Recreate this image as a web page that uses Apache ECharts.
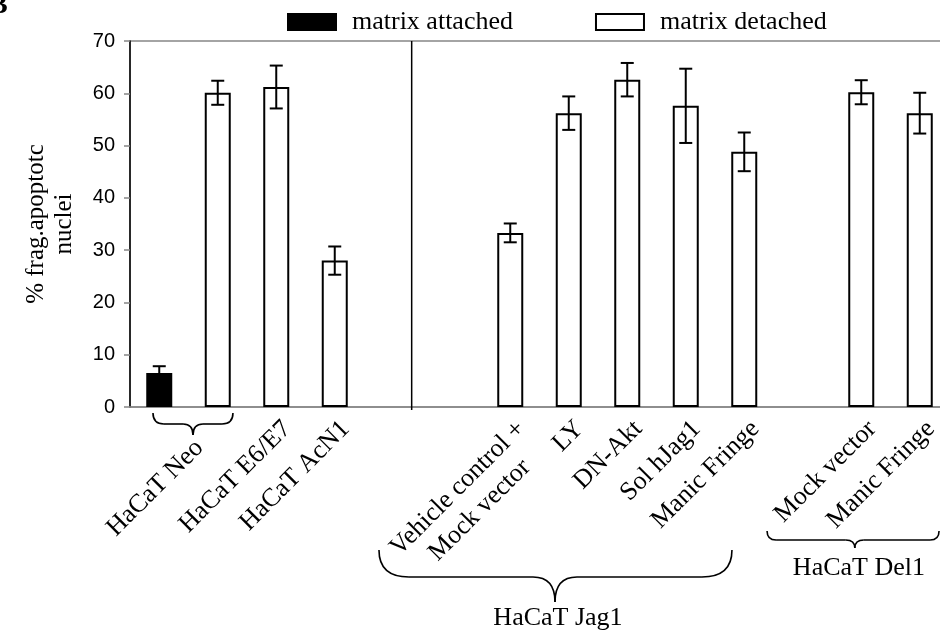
<!DOCTYPE html>
<html><head><meta charset="utf-8">
<script src="https://cdn.jsdelivr.net/npm/echarts@6/dist/echarts.min.js"></script>
<style>html,body{margin:0;padding:0;background:#fff}#c{width:940px;height:635px}</style>
</head><body><div id="c"></div>
<script>
// ---------- data ----------
const categoryLabels = ['', '', 'HaCaT E6/E7', 'HaCaT AcN1', '', '', 'Vehicle control +\nMock vector', 'LY', 'DN-Akt', 'Sol hJag1', 'Manic Fringe', '', 'Mock vector', 'Manic Fringe'];
const seriesNames = ['matrix attached', 'matrix detached'];
const attachedValues = [6.5, null, null, null, null, null, null, null, null, null, null, null, null, null];
const attachedErrors = [1.3, null, null, null, null, null, null, null, null, null, null, null, null, null];
const detachedValues = [null, 60.1, 61.2, 28.0, null, null, 33.3, 56.2, 62.6, 57.6, 48.8, null, 60.2, 56.2];
const detachedErrors = [null, 2.3, 4.1, 2.7, null, null, 1.8, 3.2, 3.2, 7.1, 3.7, null, 2.3, 3.9];
const groupNames = ['HaCaT Neo', 'HaCaT Jag1', 'HaCaT Del1'];
const yAxisMin = 0, yAxisMax = 70, yAxisStep = 10;
const yAxisTitle = ['% frag.apoptotc', 'nuclei'];
const panelLetter = 'B';

// ---------- layout (positions in slot units / px offsets below the x axis) ----------
const neoLabelAt = 0.5;
const dividerAt = 4.315;
const braces = [
  {x0: -0.107, x1: 1.26, xc: 0.577, top: 6, mid: 17, pt: 28, rEnd: 11, rMid: 10},
  {x0: 3.756, x1: 9.79, xc: 6.765, top: 143, mid: 170, pt: 195, rEnd: 30, rMid: 22},
  {x0: 10.39, x1: 13.33, xc: 11.89, top: 124, mid: 133, pt: 141, rEnd: 9, rMid: 9}
];
const groupTextPos = [null, {x: 6.816, dy: 211}, {x: 11.96, dy: 161}];

const SERIF = '"Liberation Serif", "Times New Roman", serif';
const SANS = '"Liberation Sans", Arial, sans-serif';
const GRAY = '#868686';

const toBar = arr => arr.map(v => v == null ? '-' : v);
const toErr = (vals, errs) => vals.map((v, i) => v == null ? null : [i, v - errs[i], v + errs[i]]).filter(Boolean);
const richLabel = v => v ? v.split('\n').map(s => '{c|' + s + '}').join('\n') : '';

function renderError(params, api) {
  const x = api.value(0);
  const lo = api.coord([x, api.value(1)]);
  const hi = api.coord([x, api.value(2)]);
  const hw = 6.5;
  const st = {stroke: '#000', lineWidth: 2};
  return {type: 'group', children: [
    {type: 'line', shape: {x1: hi[0], y1: hi[1], x2: lo[0], y2: lo[1]}, style: st},
    {type: 'line', shape: {x1: hi[0] - hw, y1: hi[1], x2: hi[0] + hw, y2: hi[1]}, style: st},
    {type: 'line', shape: {x1: lo[0] - hw, y1: lo[1], x2: lo[0] + hw, y2: lo[1]}, style: st}
  ]};
}

function renderDecor(params, api) {
  const X = v => api.coord([v, 0])[0];
  const y0 = api.coord([0, yAxisMin])[1];
  const yTop = api.coord([0, yAxisMax])[1];
  const st = {stroke: '#000', lineWidth: 1.6, fill: null};
  const kids = [];
  const xd = X(dividerAt);
  kids.push({type: 'line', shape: {x1: xd, y1: yTop, x2: xd, y2: y0 + 3}, style: {stroke: '#000', lineWidth: 1.5}});
  braces.forEach(b => {
    const xl = X(b.x0), xr = X(b.x1), xc = X(b.xc);
    const t = y0 + b.top, m = y0 + b.mid, p = y0 + b.pt;
    kids.push({type: 'bezierCurve', shape: {x1: xl, y1: t, cpx1: xl, cpy1: m, x2: xl + b.rEnd, y2: m}, style: st});
    kids.push({type: 'line', shape: {x1: xl + b.rEnd, y1: m, x2: xc - b.rMid, y2: m}, style: st});
    kids.push({type: 'bezierCurve', shape: {x1: xc - b.rMid, y1: m, cpx1: xc, cpy1: m, x2: xc, y2: p}, style: st});
    kids.push({type: 'bezierCurve', shape: {x1: xc, y1: p, cpx1: xc, cpy1: m, x2: xc + b.rMid, y2: m}, style: st});
    kids.push({type: 'line', shape: {x1: xc + b.rMid, y1: m, x2: xr - b.rEnd, y2: m}, style: st});
    kids.push({type: 'bezierCurve', shape: {x1: xr - b.rEnd, y1: m, cpx1: xr, cpy1: m, x2: xr, y2: t}, style: st});
  });
  groupTextPos.forEach((g, i) => {
    if (!g) return;
    kids.push({type: 'text', x: X(g.x), y: y0 + g.dy, style: {text: groupNames[i], fontFamily: SERIF, fontSize: 26, fill: '#000', align: 'center', verticalAlign: 'middle'}});
  });
  return {type: 'group', children: kids};
}

const chart = echarts.init(document.getElementById('c'));
chart.setOption({
  animation: false,
  backgroundColor: '#fff',
  graphic: [{type: 'text', x: -11, y: 20, style: {text: panelLetter, font: 'bold 28px ' + SERIF, fill: '#000', verticalAlign: 'bottom'}}],
  legend: {
    data: seriesNames, left: 287, top: 9, padding: 0, itemWidth: 48, itemHeight: 16, itemGap: 82, icon: 'rect',
    textStyle: {fontFamily: SERIF, fontSize: 26, color: '#000', padding: [0, 0, 0, 11]}
  },
  grid: {left: 130, top: 41, width: 819, height: 366, outerBoundsMode: 'none', containLabel: false,
    show: true, borderColor: GRAY, borderWidth: 1.5, backgroundColor: 'transparent'},
  xAxis: [{
    type: 'category', data: categoryLabels, position: 'bottom',
    axisLine: {lineStyle: {color: GRAY, width: 1.5}}, axisTick: {show: false},
    axisLabel: {interval: 0, rotate: 45, verticalAlign: 'top', margin: 7, formatter: richLabel,
      rich: {c: {align: 'center', fontFamily: SERIF, fontSize: 26, lineHeight: 31, color: '#000'}}}
  }, {
    type: 'value', min: -0.5, max: 13.5, interval: 1, position: 'bottom',
    axisLine: {show: false}, axisTick: {show: false}, splitLine: {show: false},
    axisLabel: {rotate: 45, verticalAlign: 'top', margin: 26, showMinLabel: true, showMaxLabel: true,
      formatter: v => Math.abs(v - neoLabelAt) < 1e-6 ? groupNames[0] : '',
      fontFamily: SERIF, fontSize: 26, color: '#000', lineHeight: 31}
  }],
  yAxis: {
    type: 'value', min: yAxisMin, max: yAxisMax, interval: yAxisStep,
    name: yAxisTitle.join('\n'), nameLocation: 'middle', nameRotate: 90, nameGap: 52,
    nameTextStyle: {fontFamily: SERIF, fontSize: 25, lineHeight: 28, color: '#000'},
    axisLine: {show: true, onZero: false, lineStyle: {color: '#000', width: 1.5}},
    axisTick: {show: true, length: 6, lineStyle: {color: GRAY, width: 1.5}},
    axisLabel: {fontFamily: SANS, fontSize: 20, color: '#000', margin: 15},
    splitLine: {show: false}
  },
  series: [
    {name: seriesNames[0], type: 'bar', data: toBar(attachedValues), barWidth: 26, barGap: '-100%',
      itemStyle: {color: '#000', borderColor: '#000', borderWidth: 2}, z: 2},
    {name: seriesNames[1], type: 'bar', data: toBar(detachedValues), barWidth: 26, barGap: '-100%',
      itemStyle: {color: '#fff', borderColor: '#000', borderWidth: 2}, z: 2},
    {name: 'err attached', type: 'custom', renderItem: renderError, data: toErr(attachedValues, attachedErrors),
      encode: {x: 0, y: [1, 2]}, z: 3, silent: true},
    {name: 'err detached', type: 'custom', renderItem: renderError, data: toErr(detachedValues, detachedErrors),
      encode: {x: 0, y: [1, 2]}, z: 3, silent: true},
    {name: 'decor', type: 'custom', xAxisIndex: 1, yAxisIndex: 0, renderItem: renderDecor, data: [[0, 0]],
      clip: false, silent: true, z: 4}
  ]
});
</script></body></html>
